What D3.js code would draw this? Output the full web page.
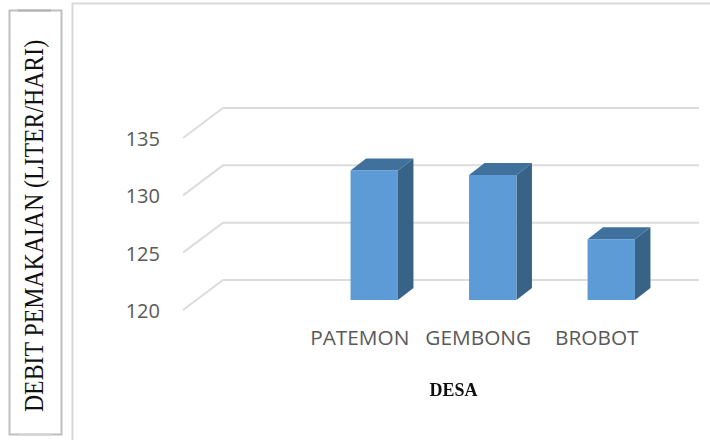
<!DOCTYPE html>
<html><head><meta charset="utf-8">
<script src="https://cdnjs.cloudflare.com/ajax/libs/d3/7.8.5/d3.min.js"></script>
<style>html,body{margin:0;padding:0;background:#fff}svg{display:block}</style></head>
<body><svg id="c" width="710" height="440"></svg>
<script>
const categories = ["PATEMON","GEMBONG","BROBOT"];
const values = [131.3,130.9,125.3];
const yTicks = [120,125,130,135];
const yTitle = "DEBIT PEMAKAIAN (LITER/HARI)";
const xTitle = "DESA";

const svg = d3.select("#c");
const defs = svg.append("defs");
defs.append("filter").attr("id","soft").append("feGaussianBlur").attr("stdDeviation",0.6);
defs.append("filter").attr("id","blurText").append("feGaussianBlur").attr("stdDeviation",0.7);

// outer frames
svg.append("path").attr("d","M72.5,440V3.5H710").attr("fill","none").attr("stroke","#d9d9d9").attr("stroke-width",2);
svg.append("rect").attr("x",9.5).attr("y",10.5).attr("width",52).attr("height",424)
  .attr("fill","#fff").attr("stroke","#bfbfbf").attr("stroke-width",2);
svg.append("path").attr("d","M18,10.5H51").attr("stroke","#b0b0b0").attr("stroke-width",2);
svg.append("path").attr("d","M18,434.5H51").attr("stroke","#d4d4d4").attr("stroke-width",2);

// scales
const y = d3.scaleLinear().domain([120,135]).range([310,138]);
const x = d3.scaleBand().domain(categories).range([315,670.5]).paddingInner(0.6).paddingOuter(0.3);

// depth geometry
const wall = {dx:40, dy:-30};
const barPlane = {dy:-10};
const bd = {dx:15.5, dy:-12};

// gridlines + floor/wall diagonals
const grid = svg.append("g").attr("filter","url(#soft)").attr("fill","none")
  .attr("stroke","#dcdcdc").attr("stroke-width",2);
grid.selectAll("path").data(yTicks).join("path")
  .attr("d",d=>`M183,${y(d)}L${183+wall.dx},${y(d)+wall.dy}H699`);

// bars
const bars = svg.append("g").attr("filter","url(#soft)").selectAll("g").data(categories).join("g");
const top_ = i=>y(values[i])+barPlane.dy, base = y(120)+barPlane.dy;
bars.append("path").attr("fill","#41719c") // top
  .attr("d",(d,i)=>{const a=x(d),b=a+x.bandwidth(),t=top_(i);
    return `M${a},${t}L${a+bd.dx},${t+bd.dy}H${b+bd.dx}L${b},${t}Z`;});
bars.append("path").attr("fill","#376487") // side
  .attr("d",(d,i)=>{const b=x(d)+x.bandwidth(),t=top_(i);
    return `M${b},${t}L${b+bd.dx},${t+bd.dy}V${base+bd.dy}L${b},${base}Z`;});
bars.append("rect").attr("fill","#5b9bd5")
  .attr("x",d=>x(d)).attr("width",x.bandwidth())
  .attr("y",(d,i)=>top_(i)).attr("height",(d,i)=>base-top_(i));

// axes
const yAxis = svg.append("g").attr("transform","translate(160,1)")
  .call(d3.axisLeft(y).tickValues(yTicks).tickSize(0).tickPadding(0));
yAxis.select(".domain").remove();
yAxis.selectAll("text").attr("font-family","'Open Sans'").attr("font-size",20).attr("fill","#595959");

const xAxis = svg.append("g").attr("transform","translate(-14.5,330)")
  .call(d3.axisBottom(x).tickSize(0).tickPadding(0));
xAxis.select(".domain").remove();
xAxis.selectAll("text").attr("font-family","'Open Sans'").attr("font-size",20.8).attr("fill","#595959");

// titles
svg.append("text").attr("transform","translate(42.5,226) rotate(-90) scale(1,1.12)").attr("text-anchor","middle")
  .attr("font-family","'Liberation Serif'").attr("font-size",23.8).attr("fill","#111").text(yTitle);
svg.append("text").attr("x",453.5).attr("y",396).attr("text-anchor","middle").attr("filter","url(#blurText)")
  .attr("font-family","'Liberation Serif'").attr("font-weight","bold").attr("font-size",18).attr("fill","#111").text(xTitle);
</script></body></html>
